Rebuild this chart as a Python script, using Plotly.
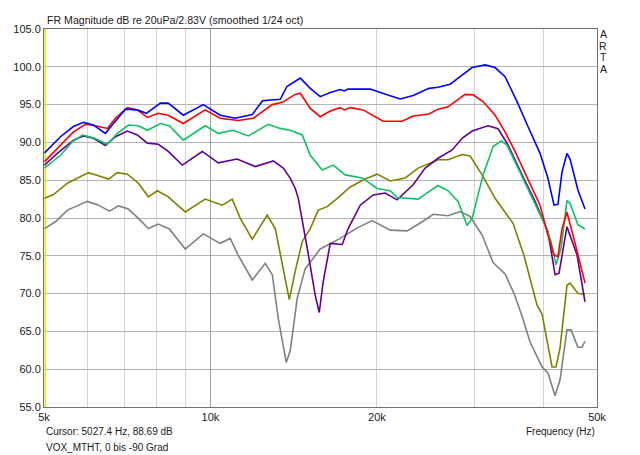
import plotly.graph_objects as go

f_blue = [5010, 5355, 5653, 5894, 6143, 6457, 6676, 7018, 7375, 7657, 8117, 8388, 8930, 9704,
          10415, 11085, 11903, 12420, 13374, 13750, 14535, 15152, 15795, 16468, 17167, 17454,
          17740, 19449, 20867, 22035, 23257, 24844, 25798, 27128, 28515, 29726, 31376, 32709,
          34098, 35836, 37510, 39445, 40762, 41808, 42494, 43225, 44121, 44689, 46181, 47564]
db_blue = [88.6, 90.75, 92.1, 92.65, 92.3, 91.2, 92.5, 94.4, 94.3, 93.85, 95.2, 95.2, 93.6, 95.0,
           93.6, 93.2, 93.7, 95.5, 95.7, 97.4, 98.5, 97.15, 96.05, 96.6, 97.0, 96.8,
           97.05, 97.05, 96.3, 95.75, 96.2, 97.15, 97.3, 97.7, 98.9, 99.9, 100.25, 99.9,
           98.7, 95.4, 92.1, 88.55, 85.25, 81.7, 81.8, 86.1, 88.55, 87.8, 83.7, 81.2]

f_red = [5010, 5286, 5653, 5943, 6194, 6510, 6732, 7075, 7375, 7688, 8047, 8388, 8930, 9784,
         10415, 11221, 11953, 12936, 13485, 14234, 14535, 15152, 15795, 16468, 17167, 17454,
         17896, 18889, 19692, 20528, 22218, 23257, 24844, 25798, 26891, 27920, 28871, 29850,
         31118, 32709, 34098, 35547, 37510, 39445, 40762, 41808, 42494, 43225, 44121, 45248, 47564]
db_red = [87.45, 89.2, 91.4, 92.4, 92.2, 91.85, 93.2, 94.6, 94.3, 93.3, 93.85, 93.6, 92.5, 94.3,
          93.2, 92.9, 93.2, 95.0, 95.3, 96.35, 96.5, 94.5, 93.4, 94.15, 94.6, 94.3,
          94.6, 94.3, 93.6, 92.8, 92.8, 93.5, 93.75, 94.4, 94.7, 95.6, 96.35, 96.3,
          95.4, 93.6, 91.4, 88.8, 85.25, 81.7, 77.75, 75.1, 74.9, 78.6, 80.75, 77.75, 71.4]

f_green = [5010, 5355, 5629, 5869, 6143, 6510, 6787, 7104, 7408, 7688, 8117, 8426, 8930, 9784,
           10329, 10994, 11707, 12722, 13374, 13943, 14656, 15152, 15926, 16674, 17526, 18811,
           20017, 21137, 21755, 23747, 24844, 25798, 26891, 28045, 29106, 29726, 31118, 32440,
           33540, 34376, 35997, 38155, 40269, 41294, 42149, 43048, 44121, 44689, 46181, 47564]
db_green = [86.6, 88.3, 90.1, 90.98, 90.6, 89.75, 91.2, 92.3, 92.2, 91.6, 92.5, 92.2, 90.3, 92.2,
            91.2, 91.6, 90.85, 92.4, 91.85, 91.6, 90.98, 88.3, 86.35, 87.0, 85.7, 85.3,
            83.9, 83.6, 82.7, 82.5, 83.5, 84.3, 83.6, 82.2, 79.0, 79.95, 85.7, 89.45,
            90.2, 89.65, 86.6, 82.6, 79.1, 76.85, 73.8, 76.0, 82.3, 81.95, 79.1, 78.55]

f_purple = [5010, 5286, 5653, 5894, 6143, 6457, 6732, 7075, 7375, 7688, 8047, 8388, 8893, 9664,
            10329, 11175, 12052, 12989, 13541, 13943, 14234, 14414, 14963, 15466, 15729, 15992,
            16468, 17310, 17740, 18656, 19692, 20699, 21755, 23257, 24446, 25798, 27353, 28515,
            29726, 31760, 33123, 34530, 36599, 38631, 40762, 41987, 42689, 44121, 46008, 47564]
db_purple = [87.0, 88.55, 90.3, 90.85, 90.55, 89.6, 90.75, 91.5, 90.98, 89.9, 89.75, 88.8, 87.0, 88.8,
             87.3, 87.8, 86.8, 87.55, 86.6, 85.25, 83.9, 82.6, 76.0, 69.8, 67.5, 71.6,
             76.65, 76.5, 78.6, 81.7, 83.05, 83.3, 82.4, 84.4, 86.6, 87.9, 89.0, 90.55,
             91.5, 92.2, 91.8, 89.65, 85.7, 82.2, 78.2, 72.5, 72.7, 78.85, 75.1, 68.9]

f_olive = [5010, 5200, 5513, 5748, 6017, 6272, 6539, 6787, 7075, 7408, 7722, 8014, 8388, 9004,
           9784, 10502, 10948, 11323, 11903, 12662, 13097, 13885, 14234, 14656, 15152, 15664,
           16262, 16953, 17896, 19046, 20017, 21137, 22495, 23747, 24844, 25798, 26891, 28515,
           29481, 30990, 32709, 35254, 36904, 38945, 39772, 41463, 42149, 42869, 44121, 44689,
           46181, 47564]
db_olive = [82.6, 83.1, 84.6, 85.3, 86.0, 85.6, 85.15, 86.0, 85.8, 84.6, 82.8, 83.6, 82.8, 80.8,
            82.5, 81.7, 82.5, 79.95, 77.2, 80.4, 78.6, 69.2, 73.0, 76.9, 78.6, 81.05,
            81.5, 82.6, 84.1, 85.15, 85.8, 84.9, 85.3, 86.6, 87.2, 87.7, 87.7, 88.4,
            88.2, 85.7, 82.6, 79.3, 75.0, 68.5, 67.3, 60.3, 60.3, 62.8, 71.1, 71.4,
            70.05, 69.9]

f_gray = [5010, 5243, 5513, 5991, 6272, 6566, 6817, 7104, 7408, 7722, 8047, 8426, 9004, 9704,
          10415, 10858, 11221, 11903, 12560, 12936, 13263, 13541, 13710, 13943, 14353, 14837,
          15795, 17167, 18423, 19611, 21137, 22678, 24145, 25276, 26891, 28280, 29481, 30990,
          32440, 34098, 35401, 36599, 37840, 39772, 40762, 41987, 42869, 44121, 44877, 46181,
          46977, 47564]
db_gray = [78.6, 79.5, 81.05, 82.2, 81.7, 80.9, 81.6, 81.2, 79.95, 78.6, 79.2, 78.55, 75.9, 77.9,
           76.65, 77.3, 75.1, 71.8, 74.0, 72.5, 66.7, 62.8, 60.9, 62.5, 69.4, 73.3,
           75.9, 77.3, 78.7, 79.65, 78.4, 78.3, 79.5, 80.5, 80.3, 80.85, 80.2, 77.75,
           74.1, 72.6, 70.0, 67.0, 63.6, 60.3, 59.5, 56.5, 58.6, 65.2, 65.2, 62.9,
           62.9, 63.7]

tick_vals = [5000, 6000, 7000, 8000, 9000, 10000, 20000, 30000, 40000, 50000]
tick_text = ["5k", "", "", "", "", "10k", "20k", "", "", "50k"]
cursor_f = 5027.4

font = "Liberation Sans, Arial, sans-serif"

fig = go.Figure()

# Cursor (gelb) und dunklere 10k-Linie
fig.add_trace(go.Scatter(x=[10000, 10000], y=[55, 105], mode="lines",
                         line=dict(color="#a0a0a0", width=1), hoverinfo="skip", showlegend=False))
fig.add_trace(go.Scatter(x=[cursor_f, cursor_f], y=[55, 105], mode="lines",
                         line=dict(color="#e8e800", width=1.5), hoverinfo="skip", showlegend=False))

curves = [
    (f_gray, db_gray, "#808080"),
    (f_olive, db_olive, "#808000"),
    (f_purple, db_purple, "#600090"),
    (f_green, db_green, "#10c064"),
    (f_red, db_red, "#ff0000"),
    (f_blue, db_blue, "#0000ff"),
]
for fx, fy, col in curves:
    fig.add_trace(go.Scatter(x=fx, y=fy, mode="lines", line=dict(color=col, width=1.6),
                             showlegend=False))

# die Seite hat 8px Rand -> Figur etwas kleiner
fig.update_layout(
    width=632, height=447,
    margin=dict(l=36, r=43, t=21, b=48),
    paper_bgcolor="white", plot_bgcolor="white",
    font=dict(family=font, size=11, color="#202020"),
    showlegend=False,
)
fig.update_xaxes(
    type="log", range=[3.69897, 4.69897], automargin=False,
    tickmode="array", tickvals=tick_vals, ticktext=tick_text,
    showgrid=True, gridcolor="#d4d4d4", gridwidth=1,
    showline=True, linecolor="#707070", linewidth=1, mirror=True,
    ticks="", zeroline=False, tickfont=dict(size=11, color="#202020"),
)
fig.update_yaxes(
    range=[55, 105], dtick=5, tick0=55, tickformat=".1f", automargin=False,
    showgrid=True, gridcolor="#b4b4b4", gridwidth=1,
    showline=True, linecolor="#707070", linewidth=1, mirror=True,
    ticks="", zeroline=False, tickfont=dict(size=11, color="#202020"),
)

ann = [
    dict(text="FR Magnitude dB re 20uPa/2.83V (smoothed 1/24 oct)", x=45, y=20, size=10.6, xa="left"),
    dict(text="Cursor: 5027.4 Hz, 88.69 dB", x=44, y=432, size=10, xa="left"),
    dict(text="VOX_MTHT, 0 bis -90 Grad", x=44, y=448, size=10, xa="left"),
    dict(text="Frequency (Hz)", x=597, y=432, size=10, xa="right"),
]
for a in ann:
    fig.add_annotation(text=a["text"], xref="paper", yref="paper",
                       x=(a["x"] - 44) / 553, y=(407 - a["y"]) / 378,
                       xanchor=a["xa"], yanchor="middle", showarrow=False,
                       font=dict(family=font, size=a["size"], color="#202020"))
for i, ch in enumerate("ARTA"):
    fig.add_annotation(text=ch, xref="paper", yref="paper",
                       x=(603 - 44) / 553, y=(407 - (34 + i * 11.6)) / 378,
                       xanchor="center", yanchor="middle", showarrow=False,
                       font=dict(family=font, size=10.5, color="#202020"))

fig.write_html("out.html")
